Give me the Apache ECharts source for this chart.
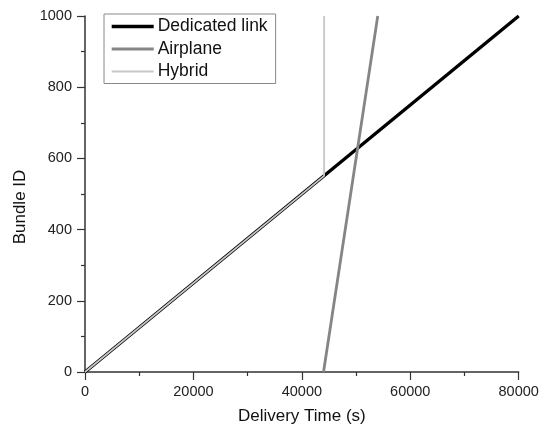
<!DOCTYPE html>
<html><head><meta charset="utf-8">
<script src="https://cdn.jsdelivr.net/npm/echarts@6/dist/echarts.min.js"></script>
<style>html,body{margin:0;padding:0;background:#fff}#c{width:544px;height:430px}</style>
</head><body><div id="c"></div>
<script>
var seriesNames = ['Dedicated link', 'Airplane', 'Hybrid'];
var dedicatedX = [0, 80000];
var dedicatedY = [0, 1000];
var airplaneX = [44000, 54000];
var airplaneY = [0, 1000];
var hybridX = [0, 44100, 44100];
var hybridY = [0, 551, 1000];
var xTicks = [0, 20000, 40000, 60000, 80000];
var yTicks = [0, 200, 400, 600, 800, 1000];

function pairs(xs, ys){ return xs.map(function(x,i){ return [x, ys[i]]; }); }

var font = 'Liberation Sans, Arial, sans-serif';
var legendWidths = [3.4, 3, 2];
var chart = echarts.init(document.getElementById('c'), null, {renderer:'canvas'});
chart.setOption({
  animation: false,
  backgroundColor: '#fff',
  grid: {left: 85, right: 25.3, top: 16, bottom: 56.3, containLabel: false},
  legend: {
    orient: 'vertical', left: 104, top: 14,
    data: seriesNames.map(function(n, i){ return {name: n, lineStyle: {width: legendWidths[i]}}; }),
    itemWidth: 42, itemHeight: 14, itemGap: 2.5,
    padding: [2.5, 8, 2, 6],
    borderColor: '#888', borderWidth: 1,
    itemStyle: {opacity: 0},
    textStyle: {fontFamily: font, fontSize: 17.5, lineHeight: 20, color: '#111', padding:[0,0,0,-1]}
  },
  xAxis: {
    type: 'value', min: xTicks[0], max: xTicks[xTicks.length-1], interval: 20000,
    name: 'Delivery Time (s)', nameLocation: 'middle', nameGap: 36,
    nameTextStyle: {fontFamily: font, fontSize: 17, color: '#111'},
    axisLine: {show: true, lineStyle: {color: '#333', width: 1.5}},
    axisTick: {show: true, inside: false, length: 8, lineStyle: {color: '#333', width: 1.2}},
    minorTick: {show: true, splitNumber: 2, length: 4, lineStyle: {color: '#333', width: 1.2}},
    axisLabel: {fontFamily: font, fontSize: 14.5, color: '#222', margin: 12, formatter: function(v){ return String(v); }},
    splitLine: {show: false}
  },
  yAxis: {
    type: 'value', min: yTicks[0], max: yTicks[yTicks.length-1], interval: 200,
    name: 'Bundle ID', nameLocation: 'middle', nameGap: 50,
    nameTextStyle: {fontFamily: font, fontSize: 17, color: '#111', padding: [0, 26, 0, 0]},
    axisLine: {show: true, lineStyle: {color: '#333', width: 1.5}},
    axisTick: {show: true, inside: false, length: 8, lineStyle: {color: '#333', width: 1.2}},
    minorTick: {show: true, splitNumber: 2, length: 4, lineStyle: {color: '#333', width: 1.2}},
    axisLabel: {fontFamily: font, fontSize: 14.5, color: '#222', margin: 13, formatter: function(v){ return String(v); }},
    splitLine: {show: false}
  },
  series: [
    {name: seriesNames[0], type: 'line', data: pairs(dedicatedX, dedicatedY), symbol: 'none',
     lineStyle: {color: '#000', width: 3.4}, itemStyle: {color: '#000'}, z: 2},
    {name: seriesNames[1], type: 'line', data: pairs(airplaneX, airplaneY), symbol: 'none',
     lineStyle: {color: '#858585', width: 2.8}, itemStyle: {color: '#858585'}, z: 3},
    {name: seriesNames[2], type: 'line', data: pairs(hybridX, hybridY), symbol: 'none',
     lineStyle: {color: '#c8c8c8', width: 1.8}, itemStyle: {color: '#c8c8c8'}, z: 4}
  ]
});
</script></body></html>
